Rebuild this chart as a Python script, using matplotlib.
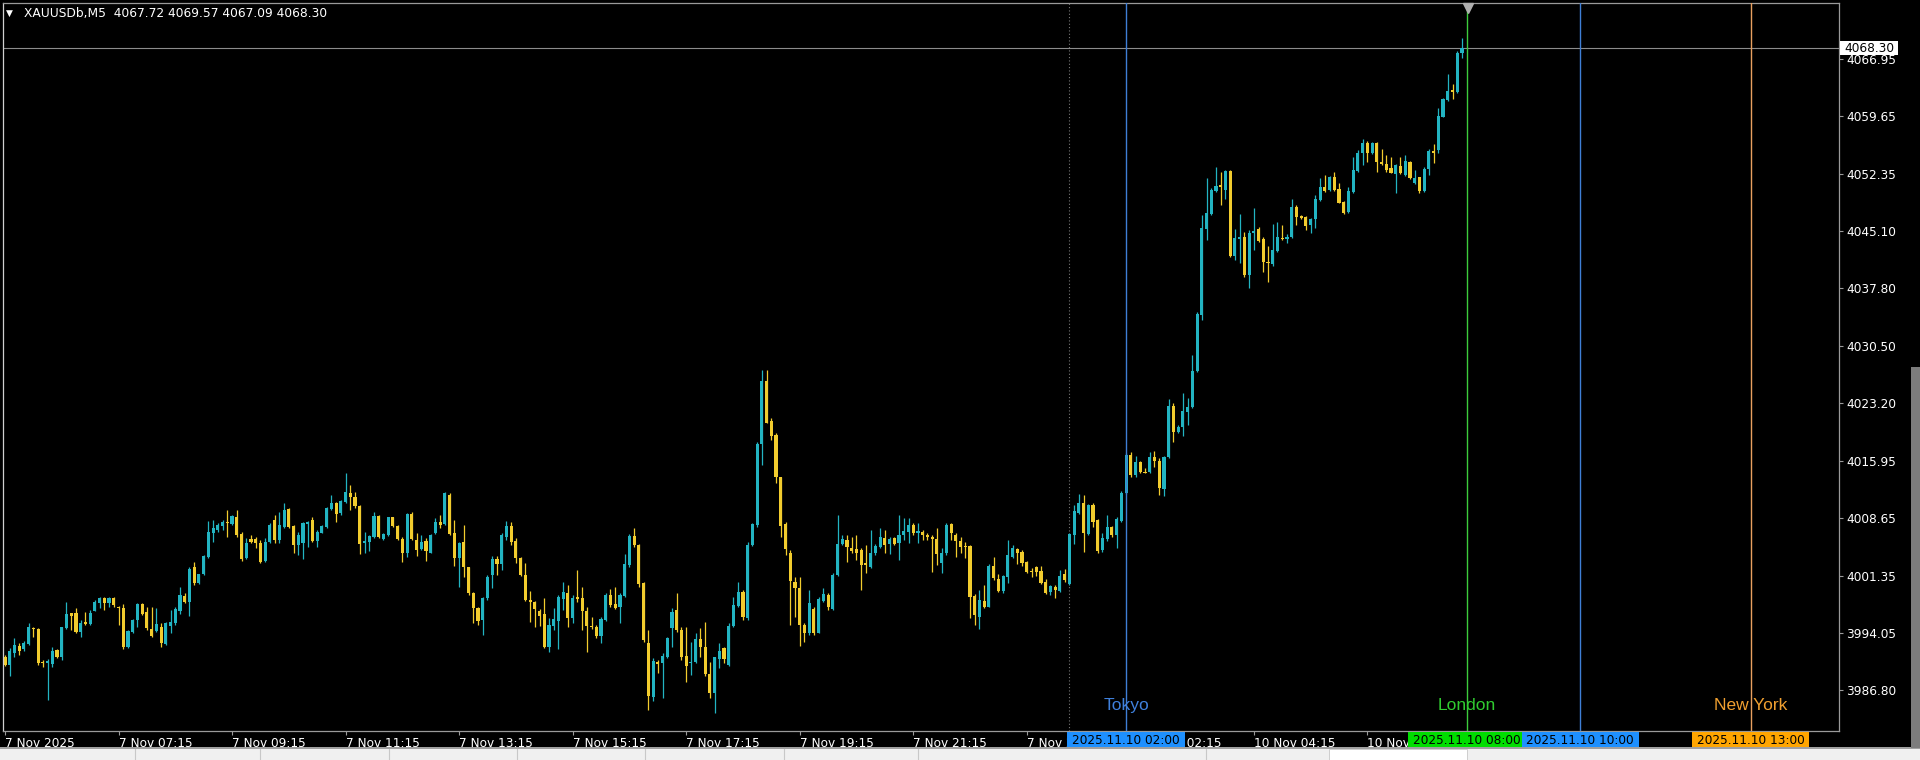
import numpy as np
import matplotlib.pyplot as plt
import matplotlib.transforms as mtransforms
from matplotlib.patches import Rectangle

# XAUUSDb M5 candles, 7 Nov 05:15 .. 10 Nov 07:55 (bar 1 .. 309)
opens = [
    3991.05, 3990.00, 3991.56, 3992.40, 3991.98, 3992.66, 3994.70, 3994.60, 3990.35, 3990.30,
    3990.12, 3991.90, 3991.05, 3994.65, 3996.55, 3996.55, 3994.23, 3995.40, 3995.20, 3996.90,
    3997.82, 3998.54, 3997.82, 3998.54, 3997.40, 3997.20, 3992.24, 3994.23, 3995.70, 3997.74,
    3996.68, 3994.56, 3994.35, 3994.78, 3992.66, 3995.00, 3995.37, 3996.90, 3998.80, 3998.00,
    4002.40, 4000.45, 4001.50, 4003.66, 4006.80, 4007.13, 4007.68, 4008.10, 4007.85, 4008.83,
    4006.63, 4003.54, 4005.95, 4006.00, 4005.52, 4003.20, 4005.57, 4008.40, 4005.86, 4007.47,
    4009.80, 4007.64, 4005.23, 4005.44, 4007.90, 4008.40, 4005.74, 4006.80, 4007.56, 4009.76,
    4010.60, 4009.25, 4010.73, 4011.87, 4011.37, 4010.22, 4005.44, 4005.65, 4006.20, 4008.91,
    4006.00, 4006.50, 4008.74, 4007.68, 4006.03, 4004.26, 4009.16, 4005.86, 4004.68, 4005.74,
    4004.26, 4006.71, 4008.19, 4007.90, 4011.58, 4006.71, 4003.54, 4005.65, 4002.39, 3999.09,
    3997.20, 3995.70, 3998.45, 4001.40, 4003.45, 4002.80, 4006.28, 4007.63, 4005.73, 4003.53,
    4001.42, 3998.24, 3997.95, 3996.90, 3996.46, 3992.23, 3994.94, 3995.62, 3998.33, 3999.17,
    3995.92, 3998.66, 3998.45, 3996.88, 3994.98, 3994.86, 3993.67, 3995.70, 3998.87, 3997.73,
    3997.39, 3998.74, 4002.68, 4006.37, 4005.23, 4000.44, 3992.74, 3985.97, 3990.42, 3990.20,
    3990.96, 3994.64, 3997.01, 3994.43, 3991.13, 3990.20, 3990.41, 3993.25, 3992.23, 3988.85,
    3986.48, 3990.71, 3992.11, 3989.99, 3994.94, 3997.48, 3999.30, 3995.92, 4005.22, 4007.76,
    4018.05, 4026.09, 4021.01, 4019.19, 4013.81, 4007.89, 4004.25, 4000.57, 3999.72, 3995.07,
    3994.01, 3997.06, 3994.09, 3998.16, 3998.87, 3997.06, 4001.41, 4005.35, 4005.86, 4004.80,
    4004.67, 4004.59, 4002.98, 4002.47, 4004.17, 4004.93, 4006.07, 4005.35, 4006.07, 4005.44,
    4006.49, 4006.92, 4007.76, 4006.70, 4006.92, 4006.49, 4006.20, 4005.94, 4002.98, 4004.17,
    4007.89, 4006.49, 4005.78, 4005.10, 4005.10, 3998.76, 3996.13, 3998.12, 3997.40, 4002.56,
    4000.87, 3999.43, 4001.21, 4003.66, 4004.68, 4004.38, 4003.11, 4001.93, 4002.48, 4001.97,
    4000.57, 3999.31, 3999.94, 3999.43, 4001.55, 4000.28, 4006.50, 4009.25, 4010.52, 4006.63,
    4010.31, 4008.40, 4004.60, 4005.95, 4007.47, 4006.50, 4008.32, 4011.87, 4016.66, 4014.11,
    4015.80, 4014.53, 4014.53, 4016.35, 4015.93, 4012.29, 4016.35, 4022.87, 4019.61, 4020.24,
    4022.15, 4022.70, 4027.36, 4034.42, 4045.30, 4047.25, 4050.21, 4050.88, 4050.29, 4052.75,
    4041.91, 4044.07, 4044.37, 4039.50, 4044.87, 4045.30, 4044.03, 4041.20, 4040.90, 4042.59,
    4044.24, 4044.03, 4044.28, 4048.18, 4046.99, 4046.82, 4045.85, 4046.57, 4049.02, 4050.72,
    4050.29, 4051.99, 4050.38, 4048.81, 4047.54, 4050.08, 4052.75, 4054.95, 4056.22, 4054.95,
    4056.22, 4053.89, 4053.60, 4053.05, 4052.33, 4053.34, 4052.20, 4053.89, 4051.23, 4051.90,
    4050.21, 4052.92, 4055.29, 4055.38, 4059.61, 4061.72, 4062.99, 4062.78, 4067.72,
]
highs = [
    3991.26, 3992.10, 3993.40, 3992.80, 3993.00, 3995.30, 3994.86, 3994.65, 3990.63, 3990.80,
    3992.24, 3992.00, 3994.86, 3997.95, 3996.64, 3997.20, 3995.70, 3996.77, 3996.98, 3998.20,
    3998.67, 3998.67, 3998.67, 3998.67, 3997.53, 3997.74, 3994.44, 3995.80, 3997.82, 3997.82,
    3997.40, 3997.40, 3997.20, 3995.30, 3995.40, 3996.98, 3997.40, 3999.94, 3999.09, 4002.48,
    4003.10, 4001.60, 4004.00, 4008.28, 4008.40, 4007.98, 4008.40, 4009.67, 4009.04, 4009.67,
    4006.92, 4006.07, 4006.50, 4006.29, 4005.86, 4006.07, 4007.98, 4009.04, 4009.46, 4010.52,
    4009.88, 4007.77, 4006.92, 4008.19, 4008.32, 4008.74, 4007.13, 4007.77, 4010.10, 4011.58,
    4010.73, 4010.94, 4014.33, 4012.85, 4012.00, 4010.31, 4006.92, 4006.50, 4009.46, 4009.04,
    4006.71, 4008.83, 4008.83, 4007.77, 4006.29, 4009.25, 4009.46, 4006.80, 4006.50, 4006.07,
    4006.63, 4008.62, 4009.04, 4012.00, 4011.79, 4008.40, 4005.65, 4007.77, 4002.48, 3999.30,
    3997.40, 3998.66, 4001.40, 4003.83, 4003.83, 4006.70, 4008.31, 4008.20, 4006.07, 4003.74,
    4002.89, 3999.43, 3998.15, 3997.05, 3998.45, 3995.92, 3997.18, 3998.87, 4000.57, 4000.15,
    3998.87, 4002.05, 3999.93, 3997.39, 3996.12, 3995.07, 3996.04, 3999.09, 3999.59, 3999.93,
    3999.09, 4004.08, 4006.58, 4007.34, 4005.35, 4000.57, 3994.43, 3990.84, 3990.63, 3991.47,
    3993.50, 3997.18, 3999.09, 3994.77, 3994.86, 3992.95, 3994.01, 3994.64, 3995.49, 3990.41,
    3991.05, 3992.74, 3992.32, 3995.28, 3998.66, 4000.57, 3999.51, 4005.65, 4008.06, 4018.34,
    4027.44, 4027.44, 4021.30, 4019.40, 4013.90, 4008.18, 4004.59, 4001.20, 4001.20, 3995.36,
    3999.51, 3997.39, 3998.66, 3999.72, 3999.09, 4001.63, 4009.03, 4006.49, 4006.49, 4006.28,
    4006.49, 4004.80, 4005.22, 4007.13, 4005.35, 4007.34, 4007.13, 4006.28, 4006.20, 4009.03,
    4008.61, 4008.61, 4007.97, 4007.97, 4007.13, 4006.70, 4006.49, 4007.34, 4004.80, 4007.97,
    4008.06, 4006.70, 4006.20, 4005.65, 4005.23, 3999.01, 3999.52, 4000.15, 4002.82, 4003.75,
    4001.55, 4001.42, 4005.86, 4005.23, 4004.81, 4004.60, 4003.24, 4002.27, 4002.56, 4002.56,
    4000.87, 4000.15, 4000.15, 4002.06, 4002.14, 4006.71, 4010.31, 4011.71, 4011.58, 4010.44,
    4010.60, 4008.49, 4006.71, 4009.04, 4007.64, 4008.83, 4012.13, 4016.87, 4017.08, 4016.52,
    4015.93, 4014.96, 4017.07, 4017.20, 4016.22, 4016.52, 4023.72, 4023.21, 4020.46, 4024.48,
    4023.84, 4029.34, 4034.85, 4047.12, 4051.77, 4050.50, 4053.25, 4052.62, 4052.83, 4052.83,
    4045.30, 4047.25, 4045.00, 4045.21, 4047.96, 4045.55, 4044.37, 4043.18, 4045.98, 4046.27,
    4045.85, 4044.71, 4049.11, 4048.39, 4047.12, 4046.99, 4046.70, 4049.66, 4051.77, 4052.20,
    4052.07, 4052.62, 4051.22, 4048.94, 4050.63, 4054.53, 4055.37, 4056.73, 4056.56, 4056.35,
    4056.35, 4055.46, 4054.74, 4054.44, 4053.60, 4054.53, 4054.74, 4054.02, 4052.84, 4051.99,
    4053.26, 4055.46, 4056.14, 4060.67, 4061.93, 4065.02, 4063.75, 4067.99, 4069.57,
]
lows = [
    3989.87, 3988.60, 3991.05, 3991.26, 3991.80, 3992.50, 3993.60, 3990.00, 3989.70, 3985.50,
    3989.70, 3990.90, 3990.63, 3994.56, 3994.44, 3994.00, 3993.50, 3995.07, 3995.07, 3996.80,
    3997.20, 3996.98, 3997.40, 3997.40, 3995.07, 3991.98, 3992.10, 3994.10, 3994.86, 3996.34,
    3994.44, 3993.50, 3994.20, 3992.32, 3992.50, 3994.00, 3995.07, 3996.47, 3997.82, 3996.26,
    4000.15, 4000.30, 4001.40, 4003.54, 4005.65, 4006.92, 4007.13, 4006.29, 4007.77, 4006.29,
    4003.24, 4003.50, 4005.44, 4004.80, 4002.90, 4003.10, 4005.44, 4005.44, 4005.44, 4007.34,
    4007.34, 4004.17, 4003.96, 4003.41, 4005.02, 4005.65, 4004.93, 4006.70, 4007.34, 4009.67,
    4008.19, 4009.04, 4010.52, 4009.67, 4009.88, 4004.09, 4004.17, 4004.50, 4006.07, 4006.07,
    4005.86, 4006.37, 4007.56, 4005.86, 4003.10, 4003.75, 4005.86, 4003.83, 4004.60, 4003.20,
    4004.17, 4006.63, 4007.34, 4007.77, 4006.50, 4002.56, 3999.94, 4001.12, 3998.88, 3995.28,
    3995.10, 3993.80, 3998.24, 3999.72, 4001.42, 4002.05, 4005.86, 4005.23, 4002.89, 4001.29,
    3998.15, 3995.49, 3994.86, 3994.94, 3992.10, 3991.68, 3994.43, 3991.98, 3996.97, 3994.77,
    3995.28, 3998.03, 3994.43, 3991.68, 3994.52, 3993.37, 3992.74, 3995.62, 3997.39, 3997.05,
    3995.28, 3998.66, 4002.47, 4005.02, 3999.93, 3992.95, 3984.28, 3985.46, 3988.93, 3985.76,
    3990.84, 3992.32, 3994.22, 3990.62, 3987.87, 3988.72, 3990.28, 3991.05, 3988.59, 3985.76,
    3983.94, 3989.57, 3990.20, 3989.86, 3994.86, 3997.39, 3995.70, 3995.70, 4005.10, 4007.55,
    4015.38, 4020.67, 4018.55, 4013.14, 4006.28, 4003.95, 3995.07, 3996.12, 3992.40, 3992.95,
    3993.80, 3993.80, 3994.01, 3998.03, 3996.97, 3996.97, 4001.29, 4005.22, 4003.11, 4004.17,
    4003.32, 3999.51, 4001.63, 4002.26, 4003.95, 4004.80, 4004.17, 4004.08, 4005.22, 4003.32,
    4005.86, 4005.44, 4006.49, 4005.44, 4005.86, 4005.86, 4001.84, 4002.68, 4001.63, 4003.95,
    4005.86, 4003.74, 4004.17, 4003.54, 3995.92, 3995.07, 3994.52, 3997.19, 3997.32, 4000.79,
    3999.31, 3999.09, 4000.45, 4003.54, 4002.82, 4002.56, 4001.63, 4001.12, 4001.29, 4000.28,
    3999.01, 3998.88, 3998.46, 3999.31, 4000.57, 4000.15, 4005.36, 4009.17, 4004.38, 4006.50,
    4007.56, 4004.26, 4004.38, 4005.78, 4006.29, 4004.81, 4008.19, 4011.71, 4013.82, 4013.81,
    4014.40, 4014.32, 4014.40, 4015.17, 4011.57, 4011.44, 4016.22, 4018.34, 4019.40, 4019.06,
    4020.46, 4022.57, 4027.23, 4033.79, 4043.94, 4047.12, 4050.08, 4048.39, 4049.11, 4041.83,
    4041.40, 4040.98, 4039.20, 4037.81, 4042.67, 4043.73, 4039.92, 4038.66, 4040.64, 4042.46,
    4043.95, 4043.61, 4044.16, 4045.85, 4046.57, 4045.21, 4044.88, 4045.43, 4048.94, 4050.08,
    4050.21, 4050.21, 4048.60, 4047.25, 4047.42, 4049.95, 4052.62, 4053.47, 4053.89, 4054.86,
    4052.62, 4053.47, 4052.62, 4052.41, 4049.87, 4052.33, 4052.07, 4051.65, 4051.06, 4049.96,
    4050.09, 4052.20, 4053.77, 4054.95, 4059.52, 4061.64, 4061.81, 4062.66, 4067.09,
]
closes = [
    3990.00, 3991.82, 3992.53, 3991.80, 3992.83, 3994.86, 3994.60, 3990.20, 3990.30, 3990.45,
    3991.82, 3991.05, 3994.78, 3996.43, 3996.20, 3994.23, 3995.37, 3995.15, 3996.64, 3998.00,
    3998.46, 3997.90, 3998.46, 3997.60, 3997.20, 3992.24, 3994.35, 3995.70, 3997.74, 3996.47,
    3994.65, 3993.67, 3995.16, 3992.74, 3995.30, 3995.40, 3997.06, 3998.88, 3997.95, 4002.18,
    4000.36, 4001.50, 4003.83, 4006.92, 4007.34, 4007.73, 4008.15, 4007.98, 4008.91, 4006.50,
    4003.41, 4005.52, 4005.65, 4005.52, 4003.10, 4005.65, 4007.77, 4005.86, 4007.77, 4009.67,
    4007.56, 4005.23, 4006.50, 4007.98, 4008.19, 4005.78, 4006.92, 4007.64, 4009.97, 4010.52,
    4009.16, 4010.82, 4012.00, 4011.37, 4010.18, 4005.36, 4005.74, 4006.37, 4008.91, 4006.20,
    4006.58, 4008.74, 4007.68, 4005.95, 4004.26, 4009.16, 4005.95, 4004.60, 4005.65, 4004.50,
    4006.50, 4008.19, 4007.77, 4011.79, 4006.63, 4003.54, 4005.44, 4002.39, 3999.09, 3997.20,
    3995.60, 3998.45, 4001.12, 4003.40, 4002.80, 4006.49, 4007.63, 4005.65, 4003.53, 4001.42,
    3998.24, 3997.95, 3997.05, 3996.20, 3992.32, 3995.07, 3995.78, 3998.66, 3999.30, 3995.92,
    3998.45, 3998.33, 3996.88, 3994.94, 3994.77, 3993.67, 3995.78, 3998.87, 3997.60, 3997.18,
    3998.87, 4002.81, 4006.37, 4005.23, 4000.27, 3993.16, 3986.05, 3990.54, 3990.08, 3991.13,
    3993.37, 3996.76, 3994.43, 3991.05, 3989.86, 3990.37, 3993.25, 3992.32, 3988.85, 3986.39,
    3990.96, 3991.81, 3990.71, 3994.94, 3997.60, 3999.30, 3996.04, 4005.22, 4007.89, 4018.05,
    4026.09, 4020.75, 4019.06, 4013.81, 4007.63, 4004.67, 4000.69, 3999.72, 3995.07, 3994.01,
    3997.82, 3994.01, 3998.33, 3999.00, 3997.31, 4001.41, 4005.35, 4005.94, 4005.01, 4004.50,
    4004.17, 4002.68, 4002.68, 4004.17, 4005.10, 4006.20, 4005.22, 4005.94, 4005.35, 4006.49,
    4007.00, 4007.76, 4006.70, 4007.00, 4006.49, 4006.20, 4005.94, 4004.08, 4004.25, 4007.76,
    4006.79, 4005.78, 4005.02, 4004.93, 3998.59, 3996.34, 3998.25, 3997.40, 4002.56, 4001.00,
    3999.43, 4001.29, 4003.96, 4004.81, 4004.17, 4002.90, 4001.84, 4001.80, 4001.84, 4000.36,
    3999.18, 4000.02, 3999.52, 4001.29, 4000.79, 4006.63, 4009.59, 4010.52, 4006.71, 4010.31,
    4008.19, 4004.47, 4006.08, 4007.56, 4006.50, 4008.49, 4011.87, 4016.66, 4014.12, 4015.80,
    4014.53, 4014.36, 4016.44, 4015.93, 4012.42, 4016.35, 4022.87, 4019.61, 4020.24, 4022.28,
    4022.78, 4027.36, 4034.55, 4045.43, 4047.41, 4050.29, 4050.80, 4050.72, 4052.75, 4041.91,
    4044.16, 4044.37, 4039.50, 4044.87, 4045.13, 4043.86, 4041.19, 4040.98, 4042.68, 4044.37,
    4044.07, 4044.37, 4048.18, 4046.91, 4046.70, 4045.72, 4046.57, 4049.11, 4050.72, 4050.21,
    4051.99, 4050.29, 4048.69, 4047.42, 4050.21, 4052.83, 4054.95, 4056.22, 4054.95, 4056.22,
    4053.89, 4053.60, 4052.84, 4052.50, 4053.47, 4052.50, 4054.02, 4051.78, 4051.78, 4050.21,
    4052.92, 4055.29, 4055.04, 4059.69, 4061.81, 4062.91, 4062.78, 4067.73, 4068.30,
]

# time axis labels and the bar they sit on
time_labels = ["7 Nov 2025", "7 Nov 07:15", "7 Nov 09:15", "7 Nov 11:15", "7 Nov 13:15",
               "7 Nov 15:15", "7 Nov 17:15", "7 Nov 19:15", "7 Nov 21:15", "7 Nov 23:15",
               "10 Nov 02:15", "10 Nov 04:15", "10 Nov 06:15"]
time_bars = [1, 25, 49, 73, 97, 121, 145, 169, 193, 217, 241, 265, 289]

price_ticks = [4066.95, 4059.65, 4052.35, 4045.10, 4037.80, 4030.50,
               4023.20, 4015.95, 4008.65, 4001.35, 3994.05, 3986.80]

# session vertical lines
line_bars = [238, 310, 334, 370]
line_names = ["Tokyo", "London", "", "New York"]
line_times = ["2025.11.10 02:00", "2025.11.10 08:00", "2025.11.10 10:00", "2025.11.10 13:00"]
line_colors = ["#3f7fd6", "#3ccc3c", "#3f7fd6", "#e8a060"]
name_colors = ["#3f80dc", "#30cc30", "#3f80dc", "#f0a030"]
box_colors = ["#1e90ff", "#00dd00", "#1e90ff", "#ffa500"]
day_separator_bar = 226
symbol = "XAUUSDb,M5"

assert len(opens) == len(highs) == len(lows) == len(closes) == 309

W, H = 1920, 760
fig = plt.figure(figsize=(W / 100, H / 100), dpi=100, facecolor="black")
ax = fig.add_axes([3 / W, 1 - 731 / H, 1836 / W, 728 / H])
ax.set_facecolor("black")
ax.set_xlim(0.58, 388.7)
ax.set_ylim(3981.61, 4074.03)

o = np.array(opens)
h = np.array(highs)
l = np.array(lows)
c = np.array(closes)
x = np.arange(1, len(o) + 1)
bull = c >= o
cols = np.where(bull, "#22b4c2", "#f2cc2e")

ax.vlines(x, np.minimum(l, np.minimum(o, c)), np.maximum(h, np.maximum(o, c)),
          colors=cols, linewidth=0.9, zorder=2)
body_lo = np.minimum(o, c)
body_h = np.maximum(np.abs(c - o), 0.13)
ax.bar(x, body_h, bottom=body_lo, width=0.66, color=cols, linewidth=0, zorder=2)

# day separator, bid line
ax.axvline(day_separator_bar, color="#777777", lw=0.8, ls=(0, (1, 2)), zorder=1)
bid = closes[-1]
ax.axhline(bid, color="#8c8c8c", lw=0.8, zorder=1)

# session lines, names and time boxes on the time scale
xbox = mtransforms.blended_transform_factory(ax.transData, fig.transFigure)
for b, nm, tm, lc, nc, bc in zip(line_bars, line_names, line_times, line_colors,
                                 name_colors, box_colors):
    ax.axvline(b, color=lc, lw=1.0, zorder=3)
    if nm:
        ax.text(b, 3984.9, nm, color=nc, fontsize=12.5, family="Liberation Sans",
                ha="center", va="center", zorder=4)
    ax.add_patch(Rectangle((b - 12.4, (H - 749) / H), 24.8, 17 / H, transform=xbox,
                           facecolor=bc, edgecolor="none", clip_on=False, zorder=6))
    ax.text(b, (H - 740.5) / H, tm, transform=xbox, color="black", fontsize=8.7,
            ha="center", va="center", clip_on=False, zorder=7)

# chart shift marker
ax.plot([310.3], [1 - 5 / 728], marker="v", markersize=7, color="#b0b0b0",
        transform=mtransforms.blended_transform_factory(ax.transData, ax.transAxes),
        clip_on=False, zorder=5)

# axes, ticks
for side in ["left", "right", "bottom", "top"]:
    ax.spines[side].set_color("#9a9a9a")
    ax.spines[side].set_linewidth(0.9)
ax.spines["left"].set_color("#d0d0d0")
ax.yaxis.tick_right()
ax.set_yticks(price_ticks)
ax.set_yticklabels([f"{v:.2f}" for v in price_ticks])
ax.tick_params(axis="y", colors="#9a9a9a", labelcolor="white", length=3, width=0.8,
               pad=2, labelsize=8.7)
ax.set_xticks(time_bars)
ax.set_xticklabels(time_labels)
ax.tick_params(axis="x", colors="#9a9a9a", labelcolor="white", length=3, width=0.8,
               pad=1.5, labelsize=8.7)
for lbl in ax.get_xticklabels():
    lbl.set_horizontalalignment("left")

# bid price box on the price scale
ybox = mtransforms.blended_transform_factory(fig.transFigure, ax.transData)
ax.add_patch(Rectangle((1840 / W, bid - 0.85), 58 / W, 1.7, transform=ybox,
                       facecolor="white", edgecolor="none", clip_on=False, zorder=8))
ax.text(1844 / W, bid, f"{bid:.2f}", transform=ybox, color="black", fontsize=8.7,
        ha="left", va="center", clip_on=False, zorder=9)

# header
fig.text(6 / W, 1 - 13 / H, "\u25bc", color="white", fontsize=6.5, va="center")
fig.text(24 / W, 1 - 13 / H,
         f"{symbol}  {opens[-1]:.2f} {highs[-1]:.2f} {lows[-1]:.2f} {closes[-1]:.2f}",
         color="white", fontsize=8.8, va="center")

# window chrome: tab strip at the bottom, scrollbar at the right
fig.add_artist(Rectangle((0, 0), 1, 11 / H, transform=fig.transFigure,
                         facecolor="#f0f0f0", edgecolor="none"))
fig.add_artist(Rectangle((0, 11 / H), 1, 2 / H, transform=fig.transFigure,
                         facecolor="#a0a0a0", edgecolor="none"))
fig.add_artist(Rectangle((1329 / W, 0), 138 / W, 11 / H, transform=fig.transFigure,
                         facecolor="white", edgecolor="#c8c8c8", lw=0.6))
for px in [135, 260, 389, 517, 645, 784, 918, 1206]:
    fig.add_artist(plt.Line2D([px / W, px / W], [0, 11 / H], transform=fig.transFigure,
                              color="#c8c8c8", lw=0.8))
fig.add_artist(Rectangle((1911 / W, 12 / H), 9 / W, 381 / H, transform=fig.transFigure,
                         facecolor="#7c7c7c", edgecolor="none"))

fig.savefig("out.png", dpi=100, facecolor="black")
